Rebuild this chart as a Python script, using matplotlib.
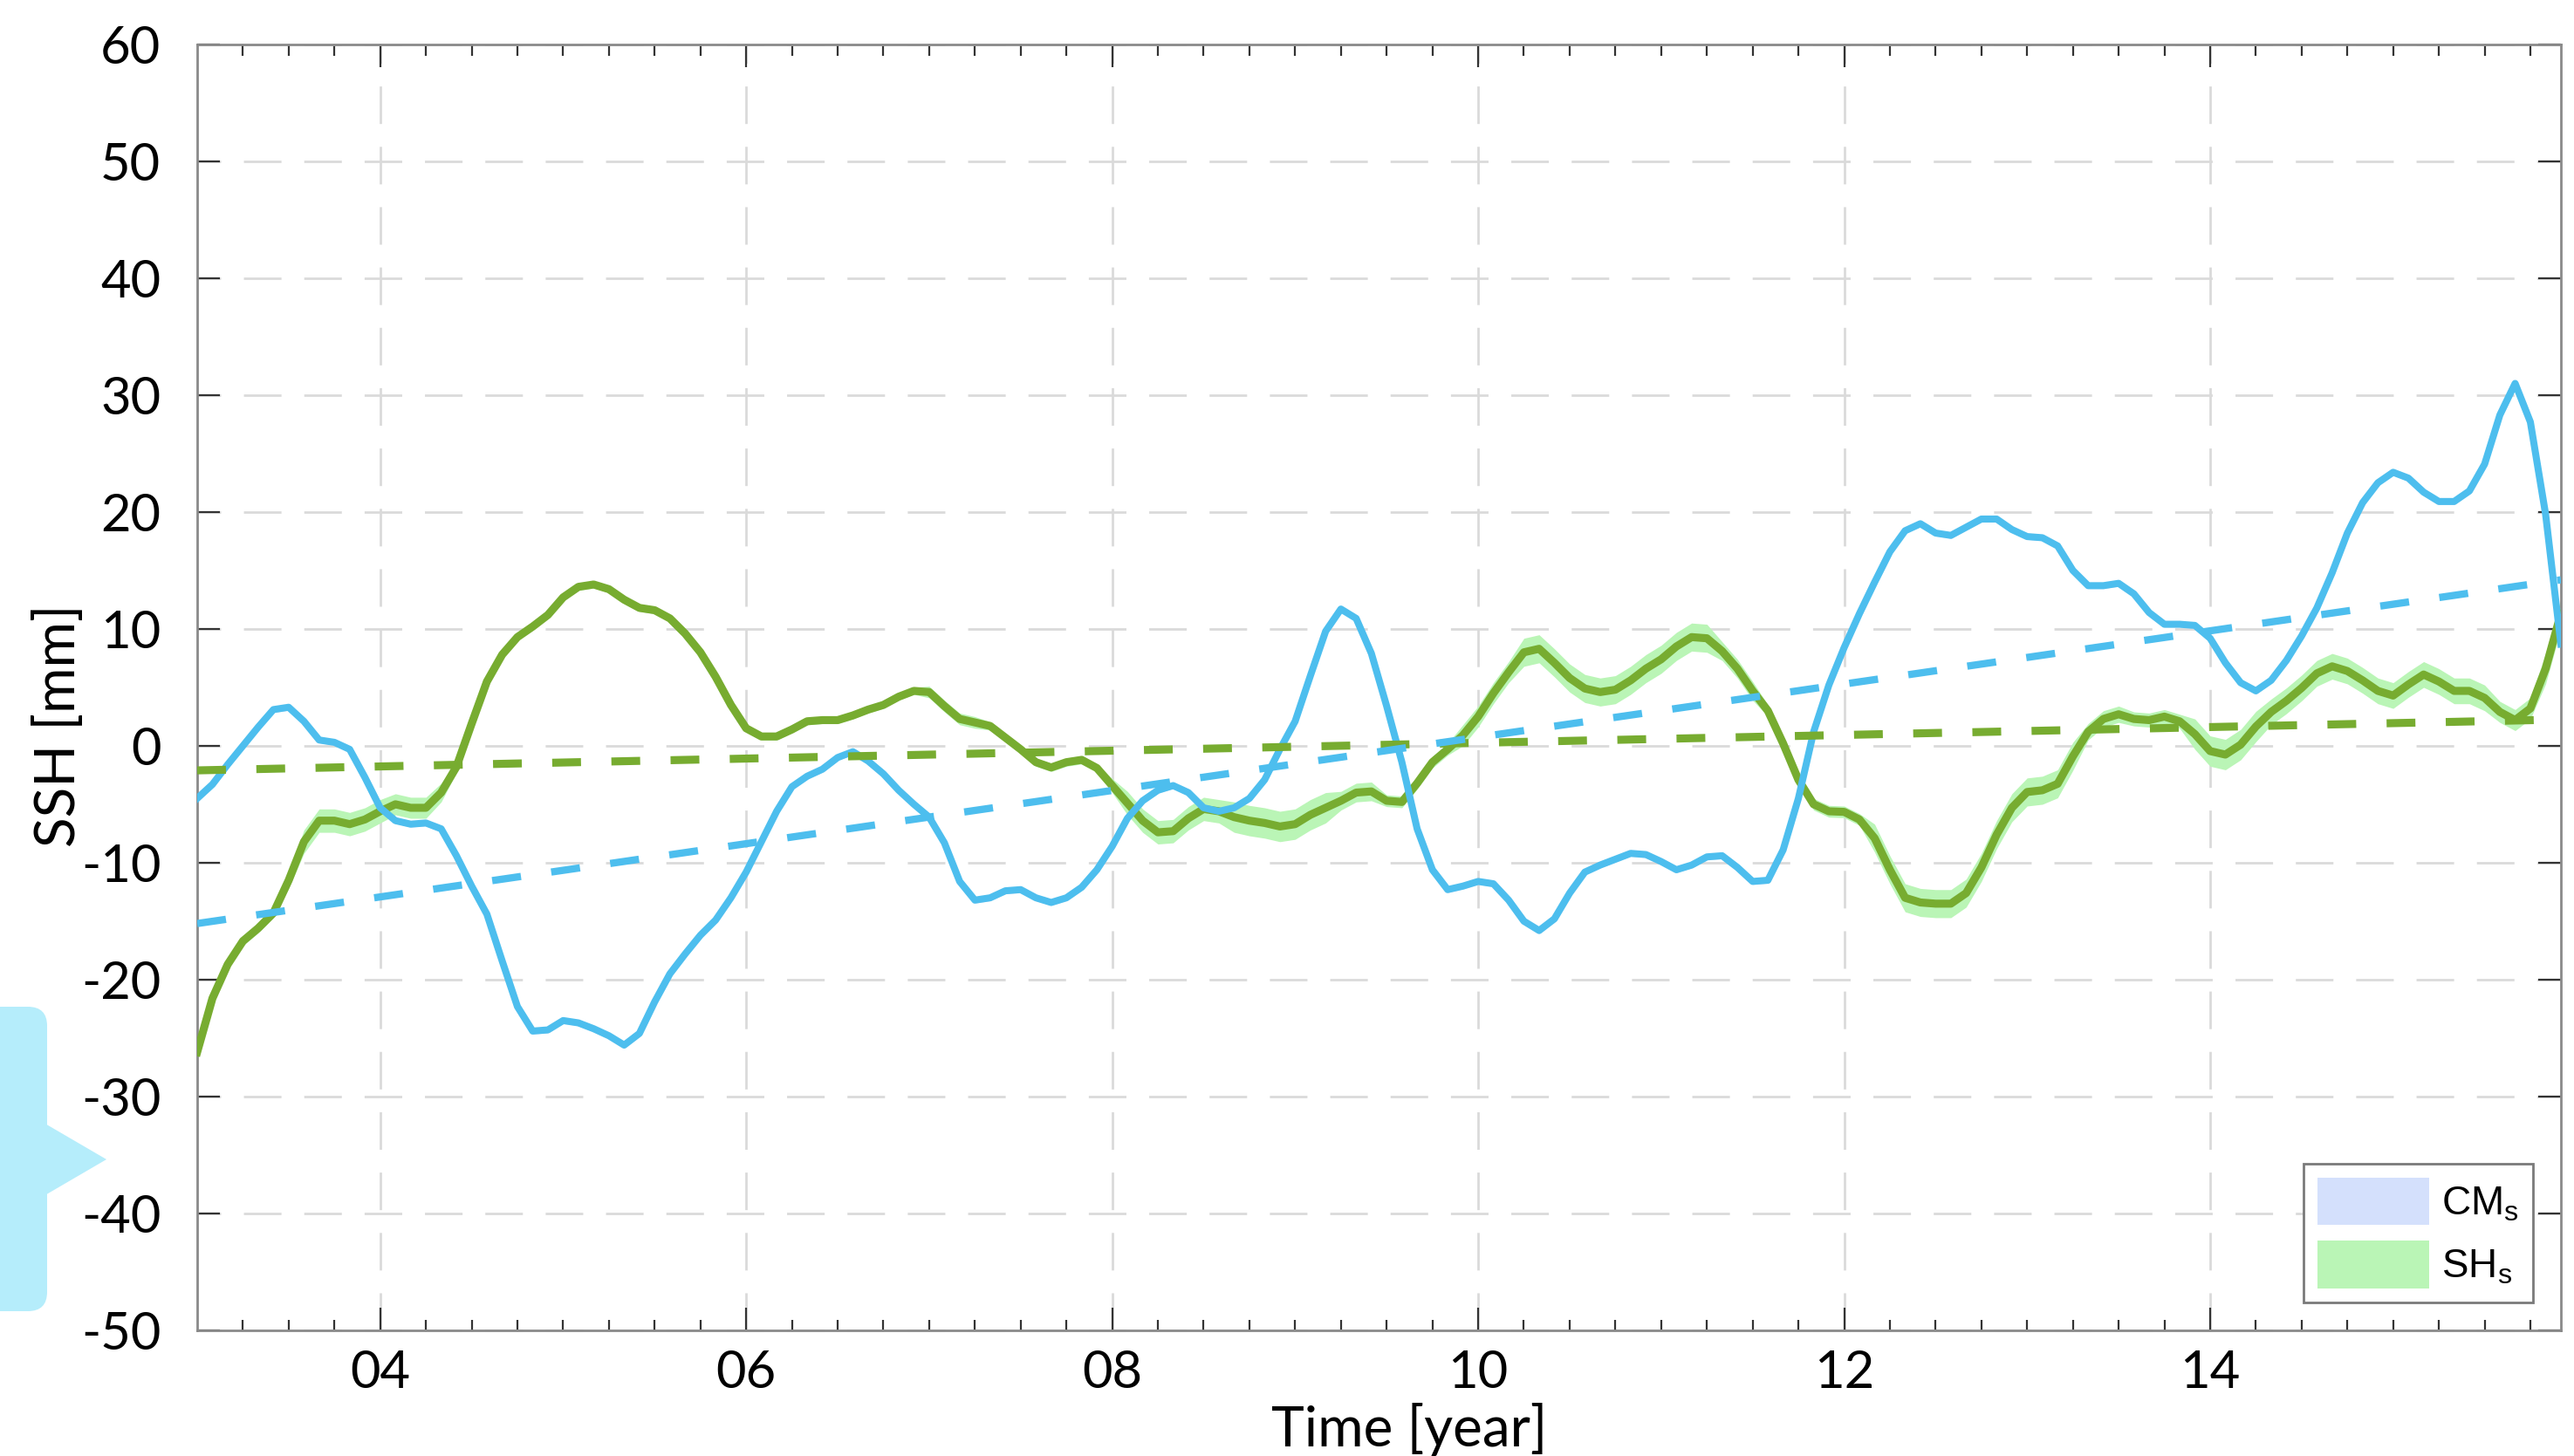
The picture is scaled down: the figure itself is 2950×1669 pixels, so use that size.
import matplotlib
matplotlib.use("Agg")
import matplotlib.pyplot as plt
import numpy as np
from matplotlib.patches import FancyBboxPatch, Polygon, Patch

# monthly series, first value is Jan 2003
START_YEAR = 2003.0

CM_SSH = [
    -4.5, -3.3, -1.6, 0.0, 1.6, 3.1, 3.3, 2.1, 0.5, 0.3, -0.3, -2.7,
    -5.3, -6.4, -6.7, -6.6, -7.1, -9.4, -12.0, -14.4, -18.4, -22.3, -24.4, -24.3,
    -23.5, -23.7, -24.2, -24.8, -25.6, -24.6, -21.9, -19.5, -17.8, -16.2, -14.9, -13.0,
    -10.8, -8.2, -5.6, -3.5, -2.6, -2.0, -1.0, -0.5, -1.3, -2.4, -3.8, -5.0,
    -6.1, -8.3, -11.6, -13.2, -13.0, -12.4, -12.3, -13.0, -13.4, -13.0, -12.1, -10.6,
    -8.6, -6.2, -4.7, -3.8, -3.4, -4.0, -5.3, -5.6, -5.3, -4.5, -2.9, -0.3,
    2.1, 6.0, 9.8, 11.7, 10.9, 7.9, 3.4, -1.4, -7.1, -10.6, -12.3, -12.0,
    -11.6, -11.8, -13.2, -15.0, -15.8, -14.8, -12.6, -10.8, -10.2, -9.7, -9.2, -9.3,
    -9.9, -10.6, -10.2, -9.5, -9.4, -10.4, -11.6, -11.5, -8.9, -4.5, 1.2, 5.2,
    8.4, 11.3, 14.0, 16.6, 18.4, 19.0, 18.2, 18.0, 18.7, 19.4, 19.4, 18.5,
    17.9, 17.8, 17.1, 15.0, 13.7, 13.7, 13.9, 13.0, 11.4, 10.4, 10.4, 10.3,
    9.2, 7.1, 5.4, 4.7, 5.6, 7.3, 9.4, 11.8, 14.8, 18.2, 20.8, 22.5,
    23.4, 22.9, 21.7, 20.9, 20.9, 21.8, 24.1, 28.3, 31.0, 27.7, 19.8, 8.7,
]

SH_SSH = [
    -26.2, -21.6, -18.7, -16.7, -15.6, -14.3, -11.5, -8.2, -6.4, -6.4, -6.7, -6.3,
    -5.6, -5.0, -5.3, -5.3, -4.0, -1.8, 1.9, 5.5, 7.8, 9.3, 10.2, 11.2,
    12.7, 13.6, 13.8, 13.4, 12.5, 11.8, 11.6, 10.9, 9.6, 8.0, 5.9, 3.5,
    1.5, 0.8, 0.8, 1.4, 2.1, 2.2, 2.2, 2.6, 3.1, 3.5, 4.2, 4.7,
    4.6, 3.4, 2.3, 2.0, 1.7, 0.7, -0.3, -1.4, -1.85, -1.4, -1.2, -1.9,
    -3.4, -4.9, -6.4, -7.4, -7.3, -6.2, -5.4, -5.6, -6.1, -6.4, -6.6, -6.9,
    -6.7, -5.9, -5.3, -4.7, -4.0, -3.9, -4.7, -4.8, -3.2, -1.4, -0.3, 0.9,
    2.5, 4.5, 6.3, 8.0, 8.3, 7.1, 5.8, 4.9, 4.6, 4.8, 5.6, 6.6,
    7.4, 8.5, 9.3, 9.2, 8.1, 6.6, 4.7, 3.0, 0.2, -2.9, -5.0, -5.6,
    -5.65, -6.3, -7.9, -10.6, -13.0, -13.4, -13.5, -13.5, -12.6, -10.4, -7.6, -5.3,
    -3.95, -3.8, -3.25, -0.9, 1.2, 2.3, 2.7, 2.3, 2.2, 2.5, 2.1, 1.0,
    -0.45, -0.75, 0.1, 1.65, 2.9, 3.85, 4.95, 6.2, 6.8, 6.4, 5.6, 4.7,
    4.3, 5.25, 6.1, 5.5, 4.7, 4.7, 4.1, 2.9, 2.2, 3.2, 6.6, 11.3,
]

# half width of the SH uncertainty band
SH_ERR = [
    0.4, 0.4, 0.4, 0.4, 0.4, 0.4, 0.7, 1.0, 1.0, 1.0, 1.0, 1.0,
    1.0, 0.9, 0.9, 0.9, 0.8, 0.5, 0.5, 0.3, 0.3, 0.3, 0.3, 0.3,
    0.3, 0.3, 0.3, 0.3, 0.3, 0.3, 0.3, 0.3, 0.3, 0.3, 0.3, 0.3,
    0.3, 0.3, 0.3, 0.3, 0.3, 0.3, 0.3, 0.3, 0.3, 0.3, 0.3, 0.3,
    0.5, 0.5, 0.5, 0.5, 0.35, 0.35, 0.35, 0.35, 0.35, 0.35, 0.35, 0.35,
    0.6, 1.0, 1.0, 1.0, 1.0, 1.0, 1.0, 1.0, 1.3, 1.3, 1.3, 1.3,
    1.3, 1.3, 1.3, 0.8, 0.8, 0.8, 0.5, 0.5, 0.5, 0.5, 0.5, 0.9,
    0.9, 0.9, 0.9, 1.2, 1.2, 1.2, 1.2, 1.2, 1.2, 1.2, 1.2, 1.2,
    1.2, 1.2, 1.2, 1.2, 0.8, 0.8, 0.8, 0.5, 0.5, 0.5, 0.5, 0.5,
    0.5, 0.5, 1.2, 1.2, 1.2, 1.2, 1.2, 1.2, 1.2, 1.2, 1.2, 1.2,
    1.2, 1.2, 1.2, 1.2, 0.7, 0.7, 0.7, 0.6, 0.6, 0.6, 0.6, 1.3,
    1.3, 1.3, 1.3, 1.3, 1.1, 1.1, 1.1, 1.1, 1.1, 1.1, 1.1, 1.1,
    1.1, 1.1, 1.1, 1.1, 1.1, 1.1, 1.1, 0.9, 0.9, 0.9, 1.3, 1.3,
]
CM_ERR = 0.25  # band is hidden under the line

# linear trends, values at first and last month
CM_TREND = [-15.2, 14.2]
SH_TREND = [-2.1, 2.25]

X_TICKS = [2004, 2006, 2008, 2010, 2012, 2014]
X_TICK_LABELS = ['04', '06', '08', '10', '12', '14']
Y_TICKS = [-50, -40, -30, -20, -10, 0, 10, 20, 30, 40, 50, 60]

CM_COLOR = '#4dbeee'
SH_COLOR = '#77ac30'
CM_BAND = '#d4e0fc'
SH_BAND = '#baf5b6'


def main():
    plt.rcParams['font.family'] = ['Lato', 'DejaVu Sans']
    plt.rcParams['axes.unicode_minus'] = False
    plt.rcParams['mathtext.fontset'] = 'custom'
    plt.rcParams['mathtext.rm'] = 'Liberation Sans'

    cm = np.array(CM_SSH)
    sh = np.array(SH_SSH)
    sh_err = np.array(SH_ERR)
    t = START_YEAR + np.arange(len(cm)) / 12.0
    t_ends = [t[0], t[-1]]

    fig = plt.figure(figsize=(14.75, 8.345), dpi=200)

    # light blue callout that sticks in from the left edge
    fig.add_artist(FancyBboxPatch((-0.15, 0.83), 0.42, 1.745,
                                  boxstyle="round,pad=0,rounding_size=0.11",
                                  transform=fig.dpi_scale_trans,
                                  facecolor='#b5edfb', edgecolor='none'))
    fig.add_artist(Polygon([(0.25, 1.91), (0.61, 1.70), (0.25, 1.49)],
                           closed=True, transform=fig.dpi_scale_trans,
                           facecolor='#b5edfb', edgecolor='none'))

    ax = fig.add_axes([0.0766, 0.0863, 0.9183, 0.8832])

    ax.fill_between(t, sh - sh_err, sh + sh_err, color=SH_BAND, lw=0, zorder=1)
    ax.fill_between(t, cm - CM_ERR, cm + CM_ERR, color=CM_BAND, lw=0, zorder=1)
    ax.plot(t, sh, color=SH_COLOR, lw=3.3, zorder=3)
    ax.plot(t, cm, color=CM_COLOR, lw=2.9, zorder=4)
    ax.plot(t_ends, SH_TREND, color=SH_COLOR, lw=3.3, ls=(0, (3.6, 3.8)), zorder=5)
    ax.plot(t_ends, CM_TREND, color=CM_COLOR, lw=3.0, ls=(0, (4.0, 4.2)), zorder=5)

    ax.set_xlim(t[0], t[-1])
    ax.set_ylim(-50, 60)
    ax.set_xticks(X_TICKS)
    ax.set_xticklabels(X_TICK_LABELS)
    ax.set_xticks(np.arange(2003.25, 2015.9, 0.25), minor=True)
    ax.set_yticks(Y_TICKS)

    ax.set_axisbelow(True)
    ax.xaxis.grid(True, color='#dadada', lw=1.0, ls=(0, (15.5, 9.4)))
    ax.yaxis.grid(True, color='#dadada', lw=1.0, ls=(5.8, (15.5, 9.4)))

    for sp in ax.spines.values():
        sp.set_color('#8a8a8a')
        sp.set_linewidth(1.0)

    ax.tick_params(which='both', direction='in', top=True, right=True,
                   color='#333333', width=0.8)
    ax.tick_params(which='major', length=9.5, labelsize=21.5)
    ax.tick_params(which='minor', length=4.5)
    ax.tick_params(axis='x', pad=8)
    ax.tick_params(axis='y', pad=15)

    ax.set_xlabel('Time [year]', fontsize=23)
    ax.xaxis.set_label_coords(0.513, -0.0563)
    ax.set_ylabel('SSH [mm]', fontsize=23)
    ax.yaxis.set_label_coords(-0.0476, 0.4705)

    handles = [Patch(facecolor=CM_BAND, edgecolor='none'),
               Patch(facecolor=SH_BAND, edgecolor='none')]
    leg = ax.legend(handles, [r'CM$_{\rm s}$', r'SH$_{\rm s}$'], loc='lower right',
                    prop={'family': 'Liberation Sans', 'size': 16.5},
                    frameon=True, fancybox=False, framealpha=1,
                    edgecolor='#7a7a7a', handlelength=2.8, handleheight=1.45,
                    handletextpad=0.3, labelspacing=0.4, borderpad=0.35,
                    borderaxespad=0.7)
    leg.get_frame().set_linewidth(1.0)

    fig.savefig('out.png', dpi=200)


if __name__ == "__main__":
    main()
